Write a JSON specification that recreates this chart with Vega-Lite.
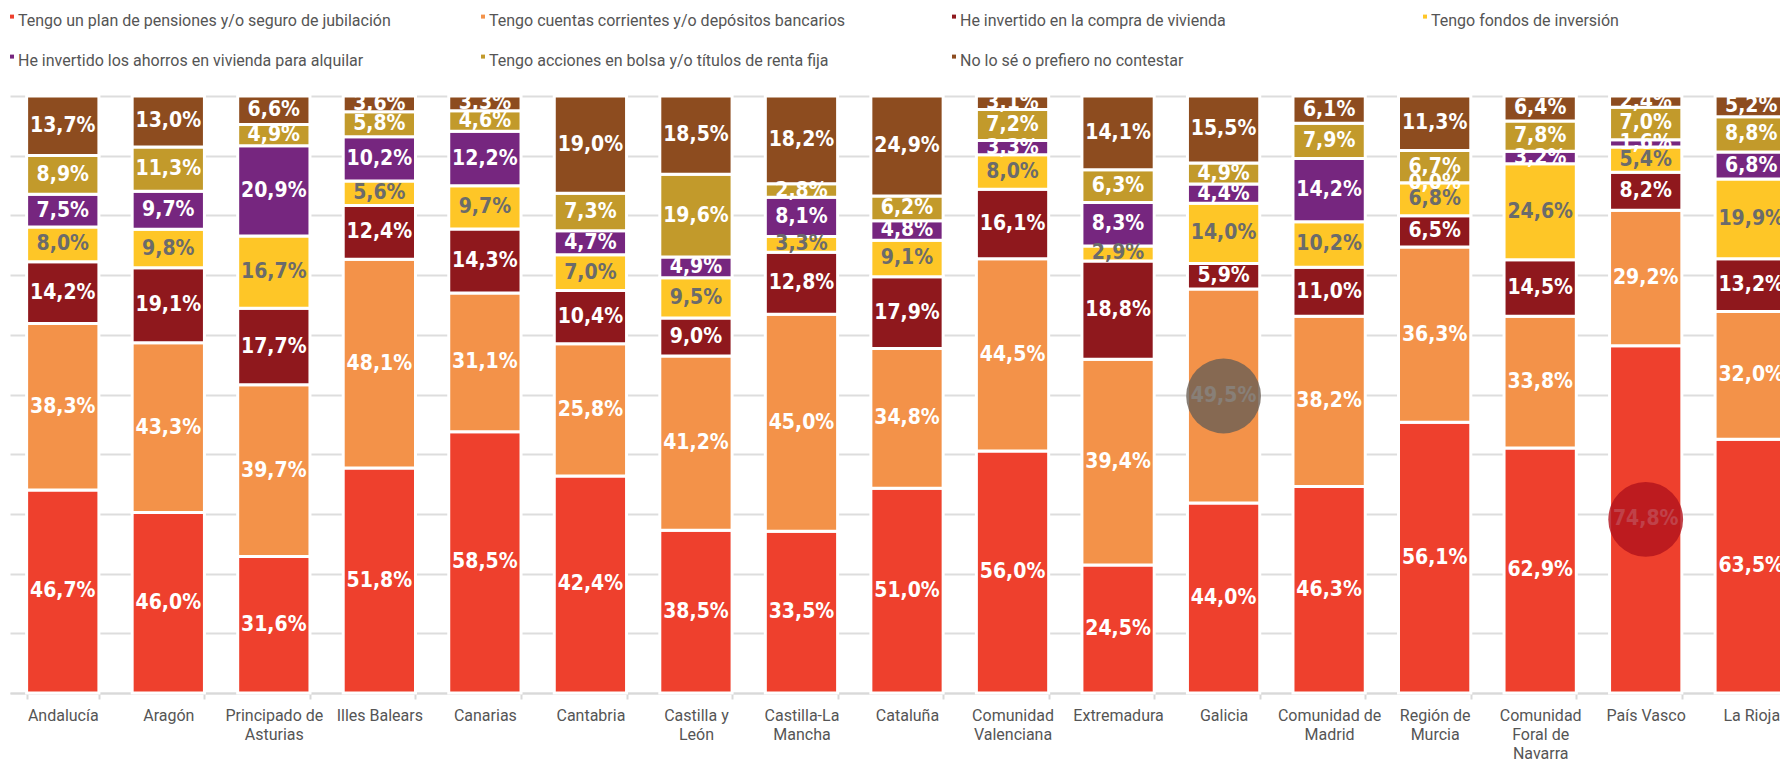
{
  "$schema": "https://vega.github.io/schema/vega-lite/v6.json",
  "width": 1794,
  "height": 597,
  "autosize": {"type": "none"},
  "padding": {"left": 10, "top": 96, "right": 0, "bottom": 67},
  "background": "white",
  "config": {
    "view": {"stroke": null},
    "font": "Roboto",
    "locale": {"number": {"decimal": ",", "thousands": ".", "grouping": [3], "currency": ["", " €"]}}
  },
  "data": {"values": [
    {"region": "Andalucía", "serie": "Tengo un plan  de pensiones  y/o seguro de jubilación", "valor": 0.467},
    {"region": "Andalucía", "serie": "Tengo cuentas corrientes y/o depósitos bancarios", "valor": 0.383},
    {"region": "Andalucía", "serie": "He invertido en la compra de vivienda", "valor": 0.142},
    {"region": "Andalucía", "serie": "Tengo fondos de inversión", "valor": 0.080},
    {"region": "Andalucía", "serie": "He invertido los ahorros en vivienda para alquilar", "valor": 0.075},
    {"region": "Andalucía", "serie": "Tengo acciones en bolsa y/o títulos de renta fija", "valor": 0.089},
    {"region": "Andalucía", "serie": "No lo sé o prefiero no contestar", "valor": 0.137},
    {"region": "Aragón", "serie": "Tengo un plan  de pensiones  y/o seguro de jubilación", "valor": 0.460},
    {"region": "Aragón", "serie": "Tengo cuentas corrientes y/o depósitos bancarios", "valor": 0.433},
    {"region": "Aragón", "serie": "He invertido en la compra de vivienda", "valor": 0.191},
    {"region": "Aragón", "serie": "Tengo fondos de inversión", "valor": 0.098},
    {"region": "Aragón", "serie": "He invertido los ahorros en vivienda para alquilar", "valor": 0.097},
    {"region": "Aragón", "serie": "Tengo acciones en bolsa y/o títulos de renta fija", "valor": 0.113},
    {"region": "Aragón", "serie": "No lo sé o prefiero no contestar", "valor": 0.130},
    {"region": "Principado de Asturias", "serie": "Tengo un plan  de pensiones  y/o seguro de jubilación", "valor": 0.316},
    {"region": "Principado de Asturias", "serie": "Tengo cuentas corrientes y/o depósitos bancarios", "valor": 0.397},
    {"region": "Principado de Asturias", "serie": "He invertido en la compra de vivienda", "valor": 0.177},
    {"region": "Principado de Asturias", "serie": "Tengo fondos de inversión", "valor": 0.167},
    {"region": "Principado de Asturias", "serie": "He invertido los ahorros en vivienda para alquilar", "valor": 0.209},
    {"region": "Principado de Asturias", "serie": "Tengo acciones en bolsa y/o títulos de renta fija", "valor": 0.049},
    {"region": "Principado de Asturias", "serie": "No lo sé o prefiero no contestar", "valor": 0.066},
    {"region": "Illes Balears", "serie": "Tengo un plan  de pensiones  y/o seguro de jubilación", "valor": 0.518},
    {"region": "Illes Balears", "serie": "Tengo cuentas corrientes y/o depósitos bancarios", "valor": 0.481},
    {"region": "Illes Balears", "serie": "He invertido en la compra de vivienda", "valor": 0.124},
    {"region": "Illes Balears", "serie": "Tengo fondos de inversión", "valor": 0.056},
    {"region": "Illes Balears", "serie": "He invertido los ahorros en vivienda para alquilar", "valor": 0.102},
    {"region": "Illes Balears", "serie": "Tengo acciones en bolsa y/o títulos de renta fija", "valor": 0.058},
    {"region": "Illes Balears", "serie": "No lo sé o prefiero no contestar", "valor": 0.036},
    {"region": "Canarias", "serie": "Tengo un plan  de pensiones  y/o seguro de jubilación", "valor": 0.585},
    {"region": "Canarias", "serie": "Tengo cuentas corrientes y/o depósitos bancarios", "valor": 0.311},
    {"region": "Canarias", "serie": "He invertido en la compra de vivienda", "valor": 0.143},
    {"region": "Canarias", "serie": "Tengo fondos de inversión", "valor": 0.097},
    {"region": "Canarias", "serie": "He invertido los ahorros en vivienda para alquilar", "valor": 0.122},
    {"region": "Canarias", "serie": "Tengo acciones en bolsa y/o títulos de renta fija", "valor": 0.046},
    {"region": "Canarias", "serie": "No lo sé o prefiero no contestar", "valor": 0.033},
    {"region": "Cantabria", "serie": "Tengo un plan  de pensiones  y/o seguro de jubilación", "valor": 0.424},
    {"region": "Cantabria", "serie": "Tengo cuentas corrientes y/o depósitos bancarios", "valor": 0.258},
    {"region": "Cantabria", "serie": "He invertido en la compra de vivienda", "valor": 0.104},
    {"region": "Cantabria", "serie": "Tengo fondos de inversión", "valor": 0.070},
    {"region": "Cantabria", "serie": "He invertido los ahorros en vivienda para alquilar", "valor": 0.047},
    {"region": "Cantabria", "serie": "Tengo acciones en bolsa y/o títulos de renta fija", "valor": 0.073},
    {"region": "Cantabria", "serie": "No lo sé o prefiero no contestar", "valor": 0.190},
    {"region": "Castilla y León", "serie": "Tengo un plan  de pensiones  y/o seguro de jubilación", "valor": 0.385},
    {"region": "Castilla y León", "serie": "Tengo cuentas corrientes y/o depósitos bancarios", "valor": 0.412},
    {"region": "Castilla y León", "serie": "He invertido en la compra de vivienda", "valor": 0.090},
    {"region": "Castilla y León", "serie": "Tengo fondos de inversión", "valor": 0.095},
    {"region": "Castilla y León", "serie": "He invertido los ahorros en vivienda para alquilar", "valor": 0.049},
    {"region": "Castilla y León", "serie": "Tengo acciones en bolsa y/o títulos de renta fija", "valor": 0.196},
    {"region": "Castilla y León", "serie": "No lo sé o prefiero no contestar", "valor": 0.185},
    {"region": "Castilla-La Mancha", "serie": "Tengo un plan  de pensiones  y/o seguro de jubilación", "valor": 0.335},
    {"region": "Castilla-La Mancha", "serie": "Tengo cuentas corrientes y/o depósitos bancarios", "valor": 0.450},
    {"region": "Castilla-La Mancha", "serie": "He invertido en la compra de vivienda", "valor": 0.128},
    {"region": "Castilla-La Mancha", "serie": "Tengo fondos de inversión", "valor": 0.033},
    {"region": "Castilla-La Mancha", "serie": "He invertido los ahorros en vivienda para alquilar", "valor": 0.081},
    {"region": "Castilla-La Mancha", "serie": "Tengo acciones en bolsa y/o títulos de renta fija", "valor": 0.028},
    {"region": "Castilla-La Mancha", "serie": "No lo sé o prefiero no contestar", "valor": 0.182},
    {"region": "Cataluña", "serie": "Tengo un plan  de pensiones  y/o seguro de jubilación", "valor": 0.510},
    {"region": "Cataluña", "serie": "Tengo cuentas corrientes y/o depósitos bancarios", "valor": 0.348},
    {"region": "Cataluña", "serie": "He invertido en la compra de vivienda", "valor": 0.179},
    {"region": "Cataluña", "serie": "Tengo fondos de inversión", "valor": 0.091},
    {"region": "Cataluña", "serie": "He invertido los ahorros en vivienda para alquilar", "valor": 0.048},
    {"region": "Cataluña", "serie": "Tengo acciones en bolsa y/o títulos de renta fija", "valor": 0.062},
    {"region": "Cataluña", "serie": "No lo sé o prefiero no contestar", "valor": 0.249},
    {"region": "Comunidad Valenciana", "serie": "Tengo un plan  de pensiones  y/o seguro de jubilación", "valor": 0.560},
    {"region": "Comunidad Valenciana", "serie": "Tengo cuentas corrientes y/o depósitos bancarios", "valor": 0.445},
    {"region": "Comunidad Valenciana", "serie": "He invertido en la compra de vivienda", "valor": 0.161},
    {"region": "Comunidad Valenciana", "serie": "Tengo fondos de inversión", "valor": 0.080},
    {"region": "Comunidad Valenciana", "serie": "He invertido los ahorros en vivienda para alquilar", "valor": 0.033},
    {"region": "Comunidad Valenciana", "serie": "Tengo acciones en bolsa y/o títulos de renta fija", "valor": 0.072},
    {"region": "Comunidad Valenciana", "serie": "No lo sé o prefiero no contestar", "valor": 0.031},
    {"region": "Extremadura", "serie": "Tengo un plan  de pensiones  y/o seguro de jubilación", "valor": 0.245},
    {"region": "Extremadura", "serie": "Tengo cuentas corrientes y/o depósitos bancarios", "valor": 0.394},
    {"region": "Extremadura", "serie": "He invertido en la compra de vivienda", "valor": 0.188},
    {"region": "Extremadura", "serie": "Tengo fondos de inversión", "valor": 0.029},
    {"region": "Extremadura", "serie": "He invertido los ahorros en vivienda para alquilar", "valor": 0.083},
    {"region": "Extremadura", "serie": "Tengo acciones en bolsa y/o títulos de renta fija", "valor": 0.063},
    {"region": "Extremadura", "serie": "No lo sé o prefiero no contestar", "valor": 0.141},
    {"region": "Galicia", "serie": "Tengo un plan  de pensiones  y/o seguro de jubilación", "valor": 0.440},
    {"region": "Galicia", "serie": "Tengo cuentas corrientes y/o depósitos bancarios", "valor": 0.495},
    {"region": "Galicia", "serie": "He invertido en la compra de vivienda", "valor": 0.059},
    {"region": "Galicia", "serie": "Tengo fondos de inversión", "valor": 0.140},
    {"region": "Galicia", "serie": "He invertido los ahorros en vivienda para alquilar", "valor": 0.044},
    {"region": "Galicia", "serie": "Tengo acciones en bolsa y/o títulos de renta fija", "valor": 0.049},
    {"region": "Galicia", "serie": "No lo sé o prefiero no contestar", "valor": 0.155},
    {"region": "Comunidad de Madrid", "serie": "Tengo un plan  de pensiones  y/o seguro de jubilación", "valor": 0.463},
    {"region": "Comunidad de Madrid", "serie": "Tengo cuentas corrientes y/o depósitos bancarios", "valor": 0.382},
    {"region": "Comunidad de Madrid", "serie": "He invertido en la compra de vivienda", "valor": 0.110},
    {"region": "Comunidad de Madrid", "serie": "Tengo fondos de inversión", "valor": 0.102},
    {"region": "Comunidad de Madrid", "serie": "He invertido los ahorros en vivienda para alquilar", "valor": 0.142},
    {"region": "Comunidad de Madrid", "serie": "Tengo acciones en bolsa y/o títulos de renta fija", "valor": 0.079},
    {"region": "Comunidad de Madrid", "serie": "No lo sé o prefiero no contestar", "valor": 0.061},
    {"region": "Región de Murcia", "serie": "Tengo un plan  de pensiones  y/o seguro de jubilación", "valor": 0.561},
    {"region": "Región de Murcia", "serie": "Tengo cuentas corrientes y/o depósitos bancarios", "valor": 0.363},
    {"region": "Región de Murcia", "serie": "He invertido en la compra de vivienda", "valor": 0.065},
    {"region": "Región de Murcia", "serie": "Tengo fondos de inversión", "valor": 0.068},
    {"region": "Región de Murcia", "serie": "He invertido los ahorros en vivienda para alquilar", "valor": 0.0},
    {"region": "Región de Murcia", "serie": "Tengo acciones en bolsa y/o títulos de renta fija", "valor": 0.067},
    {"region": "Región de Murcia", "serie": "No lo sé o prefiero no contestar", "valor": 0.113},
    {"region": "Comunidad Foral de Navarra", "serie": "Tengo un plan  de pensiones  y/o seguro de jubilación", "valor": 0.629},
    {"region": "Comunidad Foral de Navarra", "serie": "Tengo cuentas corrientes y/o depósitos bancarios", "valor": 0.338},
    {"region": "Comunidad Foral de Navarra", "serie": "He invertido en la compra de vivienda", "valor": 0.145},
    {"region": "Comunidad Foral de Navarra", "serie": "Tengo fondos de inversión", "valor": 0.246},
    {"region": "Comunidad Foral de Navarra", "serie": "He invertido los ahorros en vivienda para alquilar", "valor": 0.032},
    {"region": "Comunidad Foral de Navarra", "serie": "Tengo acciones en bolsa y/o títulos de renta fija", "valor": 0.078},
    {"region": "Comunidad Foral de Navarra", "serie": "No lo sé o prefiero no contestar", "valor": 0.064},
    {"region": "País Vasco", "serie": "Tengo un plan  de pensiones  y/o seguro de jubilación", "valor": 0.748},
    {"region": "País Vasco", "serie": "Tengo cuentas corrientes y/o depósitos bancarios", "valor": 0.292},
    {"region": "País Vasco", "serie": "He invertido en la compra de vivienda", "valor": 0.082},
    {"region": "País Vasco", "serie": "Tengo fondos de inversión", "valor": 0.054},
    {"region": "País Vasco", "serie": "He invertido los ahorros en vivienda para alquilar", "valor": 0.016},
    {"region": "País Vasco", "serie": "Tengo acciones en bolsa y/o títulos de renta fija", "valor": 0.070},
    {"region": "País Vasco", "serie": "No lo sé o prefiero no contestar", "valor": 0.024},
    {"region": "La Rioja", "serie": "Tengo un plan  de pensiones  y/o seguro de jubilación", "valor": 0.635},
    {"region": "La Rioja", "serie": "Tengo cuentas corrientes y/o depósitos bancarios", "valor": 0.320},
    {"region": "La Rioja", "serie": "He invertido en la compra de vivienda", "valor": 0.132},
    {"region": "La Rioja", "serie": "Tengo fondos de inversión", "valor": 0.199},
    {"region": "La Rioja", "serie": "He invertido los ahorros en vivienda para alquilar", "valor": 0.068},
    {"region": "La Rioja", "serie": "Tengo acciones en bolsa y/o títulos de renta fija", "valor": 0.088},
    {"region": "La Rioja", "serie": "No lo sé o prefiero no contestar", "valor": 0.052}
  ]},
  "transform": [
    {"window": [{"op": "row_number", "as": "orden"}], "groupby": ["region"]}
  ],
  "layer": [
    {
      "mark": {"type": "bar", "stroke": "white", "strokeWidth": 3, "strokeOpacity": 1},
      "encoding": {
        "x": {
          "field": "region", "type": "nominal", "sort": null,
          "scale": {"paddingInner": 0.315, "paddingOuter": 0.1575},
          "axis": {
            "title": null, "labelAngle": 0, "labelColor": "#555555", "labelFont": "Roboto", "labelFontSize": 16,
            "labelPadding": 8, "labelLineHeight": 19, "labelBaseline": "top", "labelLimit": 200,
            "domainColor": "#d9d9d9", "domainWidth": 2, "tickColor": "#d9d9d9", "tickWidth": 2, "tickSize": 6,
            "tickBand": "extent", "grid": false,
            "labelExpr": "datum.value == 'Principado de Asturias' ? ['Principado de','Asturias'] : datum.value == 'Castilla y León' ? ['Castilla y','León'] : datum.value == 'Castilla-La Mancha' ? ['Castilla-La','Mancha'] : datum.value == 'Comunidad Valenciana' ? ['Comunidad','Valenciana'] : datum.value == 'Comunidad de Madrid' ? ['Comunidad de','Madrid'] : datum.value == 'Región de Murcia' ? ['Región de','Murcia'] : datum.value == 'Comunidad Foral de Navarra' ? ['Comunidad','Foral de','Navarra'] : datum.value"
          }
        },
        "y": {
          "field": "valor", "type": "quantitative", "stack": "normalize",
          "axis": {"title": null, "labels": false, "ticks": false, "domain": false, "grid": true,
                   "values": [0, 0.1, 0.2, 0.3, 0.4, 0.5, 0.6, 0.7, 0.8, 0.9, 1],
                   "gridColor": "#dddddd", "gridWidth": 2}
        },
        "order": {"field": "orden", "type": "quantitative", "sort": "ascending"},
        "color": {
          "field": "serie", "type": "nominal",
          "scale": {
            "domain": ["Tengo un plan  de pensiones  y/o seguro de jubilación", "Tengo cuentas corrientes y/o depósitos bancarios", "He invertido en la compra de vivienda", "Tengo fondos de inversión", "He invertido los ahorros en vivienda para alquilar", "Tengo acciones en bolsa y/o títulos de renta fija", "No lo sé o prefiero no contestar"],
            "range": ["#EE402D", "#F39249", "#8F181D", "#FEC627", "#76267F", "#C29A2B", "#8D4C1F"]
          },
          "legend": {
            "orient": "none", "legendX": -13, "legendY": -83, "direction": "horizontal", "columns": 4,
            "title": null, "gridAlign": "all", "columnPadding": 69, "rowPadding": 24, "padding": 0,
            "symbolType": "M2.5,-3.2H4.5V-1.2H2.5Z", "symbolSize": 16, "symbolStrokeWidth": 0, "symbolOpacity": 1,
            "labelFont": "Roboto", "labelFontSize": 16, "labelColor": "#555555", "labelLimit": 600, "labelOffset": 5
          }
        }
      }
    },
    {
      "mark": {"type": "text", "font": "Liberation Sans Narrow, DejaVu Sans Condensed, sans-serif", "fontWeight": "bold", "fontSize": 21, "baseline": "middle", "align": "center"},
      "encoding": {
        "x": {"field": "region", "type": "nominal", "sort": null},
        "y": {"field": "valor", "type": "quantitative", "stack": "normalize", "bandPosition": 0.5},
        "order": {"field": "orden", "type": "quantitative", "sort": "ascending"},
        "text": {"field": "valor", "type": "quantitative", "format": ".1%"},
        "color": {
          "field": "serie", "type": "nominal",
          "scale": {
            "domain": ["Tengo un plan  de pensiones  y/o seguro de jubilación", "Tengo cuentas corrientes y/o depósitos bancarios", "He invertido en la compra de vivienda", "Tengo fondos de inversión", "He invertido los ahorros en vivienda para alquilar", "Tengo acciones en bolsa y/o títulos de renta fija", "No lo sé o prefiero no contestar"],
            "range": ["#ffffff", "#ffffff", "#ffffff", "#6b6b6b", "#ffffff", "#ffffff", "#ffffff"]
          },
          "legend": null
        }
      }
    },
    {
      "mark": {"type": "point", "shape": "circle", "filled": true, "size": 5600, "strokeWidth": 0},
      "encoding": {
        "x": {"field": "region", "type": "nominal", "sort": null},
        "y": {"field": "valor", "type": "quantitative", "stack": "normalize", "bandPosition": 0.5},
        "order": {"field": "orden", "type": "quantitative", "sort": "ascending"},
        "color": {
          "field": "serie", "type": "nominal",
          "scale": {
            "domain": ["Tengo un plan  de pensiones  y/o seguro de jubilación", "Tengo cuentas corrientes y/o depósitos bancarios", "He invertido en la compra de vivienda", "Tengo fondos de inversión", "He invertido los ahorros en vivienda para alquilar", "Tengo acciones en bolsa y/o títulos de renta fija", "No lo sé o prefiero no contestar"],
            "range": ["#b0121c", "#6a5f55", "#000000", "#000000", "#000000", "#000000", "#000000"]
          },
          "legend": null
        },
        "opacity": {
          "condition": {"test": "(datum.region == 'Galicia' && datum.serie == 'Tengo cuentas corrientes y/o depósitos bancarios') || (datum.region == 'País Vasco' && datum.serie == 'Tengo un plan  de pensiones  y/o seguro de jubilación')", "value": 0.8},
          "value": 0
        }
      }
    }
  ],
  "resolve": {"scale": {"color": "independent"}, "legend": {"color": "independent"}}
}
